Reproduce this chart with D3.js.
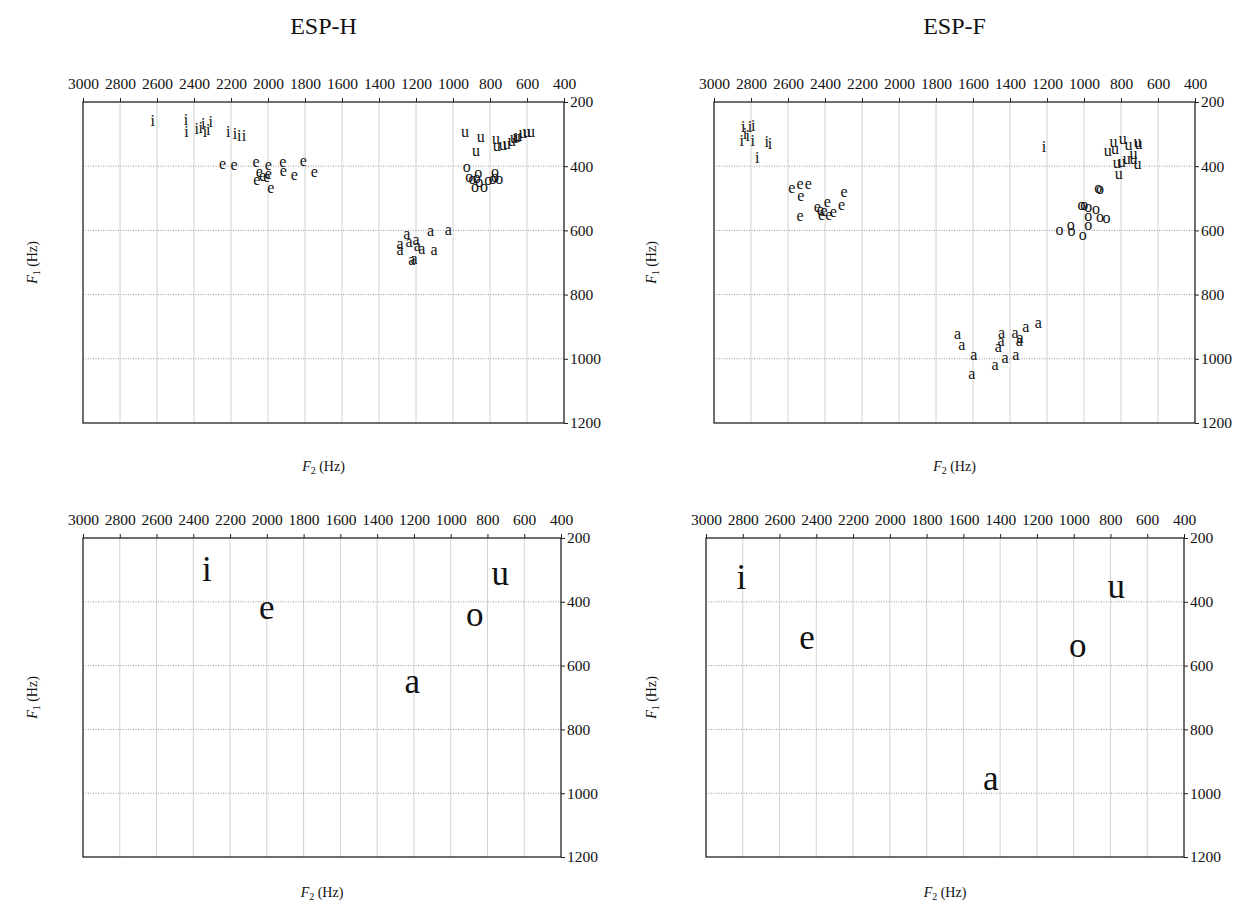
<!DOCTYPE html>
<html><head><meta charset="utf-8">
<script src="https://cdn.jsdelivr.net/npm/d3@7"></script>
<style>body{margin:0;background:#fff}svg{display:block}text{font-family:"Liberation Serif","Times New Roman",serif}</style>
</head><body>
<svg id="c" width="1239" height="903"></svg>
<script>
// ---------- data (F2 Hz, F1 Hz) ----------
const titles = ["ESP-H", "ESP-F"];
const xTicks = [3000,2800,2600,2400,2200,2000,1800,1600,1400,1200,1000,800,600,400];
const yTicks = [200,400,600,800,1000,1200];
const vowels = ["i","e","a","o","u"];

// ESP-H individual tokens
const espH_i = [[2623,264],[2443,261],[2440,296],[2385,287],[2363,285],[2350,272],[2341,298],[2323,292],[2310,266],[2215,297],[2178,303],[2155,308],[2130,308]];
const espH_e = [[2245,396],[2184,401],[2065,389],[2047,422],[2061,448],[2029,433],[2007,438],[1998,401],[1998,427],[1985,472],[1920,391],[1917,420],[1858,430],[1809,386],[1750,422]];
const espH_a = [[1250,614],[1286,645],[1286,666],[1238,640],[1200,635],[1193,651],[1169,661],[1121,604],[1026,602],[1103,666],[1223,697],[1211,692]];
const espH_o = [[926,407],[912,438],[894,443],[881,469],[872,441],[863,424],[858,453],[832,469],[809,448],[785,443],[773,422],[773,438],[750,445]];
const espH_u = [[935,296],[850,313],[876,355],[768,318],[764,342],[731,337],[710,334],[683,324],[670,316],[647,308],[623,300],[601,298],[579,298],[656,313]];

// ESP-F individual tokens
const espF_i = [[2850,324],[2842,282],[2832,303],[2818,308],[2805,282],[2788,279],[2791,324],[2766,379],[2715,329],[2697,334],[1216,344]];
const espF_e = [[2580,472],[2535,459],[2490,459],[2531,495],[2535,559],[2442,531],[2418,557],[2405,543],[2388,514],[2380,557],[2355,547],[2310,524],[2297,484],[2425,540]];
const espF_a = [[1683,926],[1661,960],[1595,991],[1607,1050],[1481,1022],[1463,967],[1449,947],[1445,923],[1427,1002],[1373,923],[1350,947],[1346,940],[1368,993],[1314,905],[1247,892]];
const espF_o = [[923,472],[914,474],[1013,526],[998,524],[977,531],[935,536],[977,559],[914,563],[878,566],[977,588],[1072,588],[1067,604],[1133,602],[1007,617]];
const espF_u = [[872,357],[832,350],[841,329],[791,320],[760,339],[733,365],[711,329],[823,393],[796,391],[812,427],[769,381],[733,381],[711,396],[705,335]];

// Means per vowel (order of `vowels`)
const espH_meanF2 = [2326, 2000, 1209, 869, 731];
const espH_meanF1 = [307, 429, 658, 448, 322];
const espF_meanF2 = [2808, 2450, 1451, 978, 769];
const espF_meanF1 = [332, 522, 965, 546, 363];

// ---------- drawing ----------
const svg = d3.select("#c");
const FONT = '"Liberation Serif","Times New Roman",serif';

function panel(box, tokens, letterSize, title, labelX, f2Off) {
  const x = d3.scaleLinear().domain([3000,400]).range([box.l, box.r]);
  const y = d3.scaleLinear().domain([200,1200]).range([box.t, box.b]);
  const g = svg.append("g");
  // grid
  g.selectAll(".vg").data(xTicks.slice(1,-1)).join("line")
    .attr("x1", d=>x(d)).attr("x2", d=>x(d)).attr("y1", box.t).attr("y2", box.b)
    .attr("stroke", "#d2d2d2").attr("stroke-width", 1);
  g.selectAll(".hg").data(yTicks.slice(1,-1)).join("line")
    .attr("x1", box.l).attr("x2", box.r).attr("y1", d=>y(d)).attr("y2", d=>y(d))
    .attr("stroke", "#999").attr("stroke-width", 1).attr("stroke-dasharray", "1,1.5");
  // box
  g.append("rect").attr("x", box.l).attr("y", box.t).attr("width", box.r-box.l).attr("height", box.b-box.t)
    .attr("fill", "none").attr("stroke", "#222").attr("stroke-width", 1.3);
  // axes
  const ax = g.append("g").attr("transform", `translate(0,${box.t})`)
    .call(d3.axisTop(x).tickValues(xTicks).tickFormat(d3.format("d")).tickSize(4).tickPadding(9));
  ax.select(".domain").remove();
  ax.selectAll("text").attr("font-size", 15.5).attr("fill", "#111").style("font-family", FONT);
  ax.selectAll("line").attr("stroke", "#222");
  const ay = g.append("g").attr("transform", `translate(${box.r},0)`)
    .call(d3.axisRight(y).tickValues(yTicks).tickFormat(d3.format("d")).tickSize(4).tickPadding(2));
  ay.select(".domain").remove();
  ay.selectAll("text").attr("font-size", 15.5).attr("fill", "#111").style("font-family", FONT);
  ay.selectAll("line").attr("stroke", "#222");
  // axis labels
  const cx = (box.l + box.r) / 2;
  const f2 = g.append("text").attr("x", cx).attr("y", box.b + f2Off).attr("text-anchor", "middle")
    .attr("font-size", 14).attr("fill", "#111");
  f2.append("tspan").attr("font-style", "italic").text("F");
  f2.append("tspan").attr("font-size", 10).attr("dy", 3).text("2");
  f2.append("tspan").attr("dy", -3).text(" (Hz)");
  const cy = (box.t + box.b) / 2;
  const f1 = g.append("text").attr("transform", `translate(${labelX},${cy}) rotate(-90)`)
    .attr("text-anchor", "middle").attr("font-size", 14).attr("fill", "#111");
  f1.append("tspan").attr("font-style", "italic").text("F");
  f1.append("tspan").attr("font-size", 10).attr("dy", 3).text("1");
  f1.append("tspan").attr("dy", -3).text(" (Hz)");
  if (title) {
    svg.append("text").attr("x", cx).attr("y", 34).attr("text-anchor", "middle")
      .attr("font-size", 24).attr("fill", "#111").text(title);
  }
  // letters
  g.append("g").selectAll("text").data(tokens).join("text")
    .attr("x", d=>x(d.f2)).attr("y", d=>y(d.f1)).attr("dy", "0.24em")
    .attr("text-anchor", "middle").attr("font-size", letterSize).attr("fill", "#111")
    .text(d=>d.v);
}

function toTokens(sets) {
  const out = [];
  vowels.forEach((v, k) => sets[k].forEach(p => out.push({v, f2: p[0], f1: p[1]})));
  return out;
}
function meanTokens(f2s, f1s) {
  return vowels.map((v, k) => ({v, f2: f2s[k], f1: f1s[k]}));
}

panel({l:83, r:564, t:102, b:423}, toTokens([espH_i, espH_e, espH_a, espH_o, espH_u]), 16, titles[0], 37, 48);
panel({l:714, r:1195, t:102, b:423}, toTokens([espF_i, espF_e, espF_a, espF_o, espF_u]), 16, titles[1], 656, 48);
panel({l:83, r:561, t:538, b:857}, meanTokens(espH_meanF2, espH_meanF1), 35, null, 37, 40);
panel({l:706, r:1184, t:538, b:857}, meanTokens(espF_meanF2, espF_meanF1), 35, null, 656, 40);
</script>
</body></html>
